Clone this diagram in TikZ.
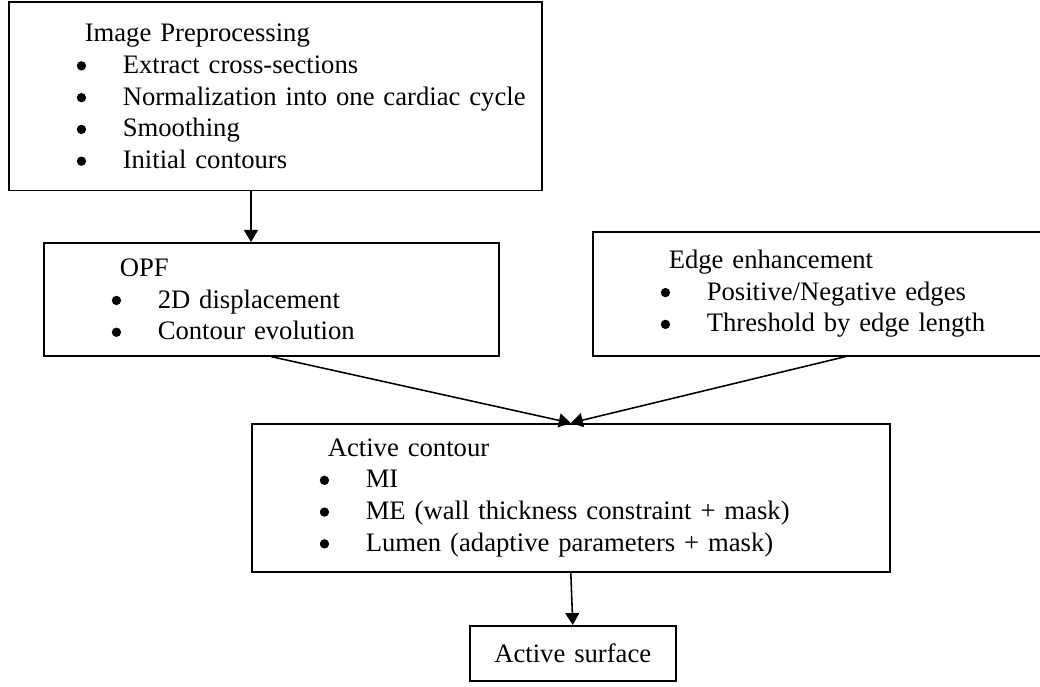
\documentclass[tikz,border=0pt]{standalone}
\usepackage{fontspec}
\setmainfont{Liberation Serif}
\usetikzlibrary{arrows.meta}
\newcommand{\hd}[1]{\hspace*{34.2pt}#1}
\newcommand{\blt}{\tikz[baseline=-3.4pt]\fill (0,0) circle (2.1pt);}
\newcommand{\itm}[1]{\hspace*{30.6pt}\makebox[20.7pt][l]{\blt}#1}

\begin{document}
\begin{tikzpicture}[x=0.45pt, y=-0.45pt,
    stage/.style={draw, line width=0.7pt, anchor=north west, inner xsep=0pt, inner ysep=0pt,
      align=left, font=\fontsize{12pt}{14.3pt}\selectfont},
    flow/.style={-{Triangle[length=5.4pt, width=6.3pt]}, line width=0.7pt}]
    \useasboundingbox (0,0) rectangle (1040,687);
    \node[stage, text width=239.9pt, minimum height=84.8pt] (prep) at (8,1.5)
      {\hd{Image Preprocessing}\\ \itm{Extract cross-sections}\\ \itm{Normalization into one cardiac cycle}\\
       \itm{Smoothing}\\ \itm{Initial contours}};
    \node[stage, text width=204.8pt, minimum height=50.9pt] (opf) at (43,242)
      {\hd{OPF}\\ \itm{2D displacement}\\ \itm{Contour evolution}};
    \node[stage, text width=227.7pt, minimum height=55.8pt] (edge) at (592,231)
      {\hd{Edge enhancement}\\ \itm{Positive/Negative edges}\\ \itm{Threshold by edge length}};
    \node[stage, text width=287.1pt, minimum height=66.6pt] (active) at (251,423)
      {\hd{Active contour}\\ \itm{MI}\\ \itm{ME (wall thickness constraint + mask)}\\
       \itm{Lumen (adaptive parameters + mask)}};
    \node[stage, align=center, text width=92.7pt, minimum height=24.8pt] (surface) at (469,625) {Active surface};
    \coordinate (drop) at ([xshift=109.35pt]prep.south west);
    \draw[flow] (drop) -- (drop |- opf.north);
    \draw[flow] (opf.south) -- (active.north);
    \draw[flow] (edge.south) -- (active.north);
    \draw[flow] (active.south) -- (surface.north);
\end{tikzpicture}
\end{document}
